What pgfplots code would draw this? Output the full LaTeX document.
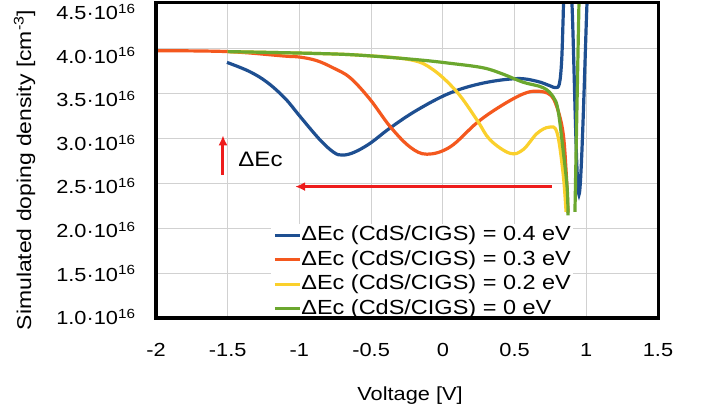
\documentclass[border=0pt]{standalone}
\usepackage{fontspec}
\setmainfont[FakeStretch=1.15]{Liberation Sans}
\usepackage{pgfplots}
\pgfplotsset{compat=1.18}
\usetikzlibrary{arrows.meta}

\definecolor{cblue}{HTML}{1E4F91}
\definecolor{corange}{HTML}{F4581E}
\definecolor{cyellow}{HTML}{FAD02C}
\definecolor{cgreen}{HTML}{6BA72E}
\definecolor{cred}{HTML}{EE1C1C}

\begin{document}
\begin{tikzpicture}
\begin{axis}[
  name=ax,
  scale only axis,
  width=502bp, height=315bp,
  xmin=-2, xmax=1.5,
  ymin=1.0, ymax=4.5,
  xtick={-2,-1.5,-1,-0.5,0,0.5,1,1.5},
  xticklabels={-2,-1.5,-1,-0.5,0,0.5,1,1.5},
  ytick={1.0,1.5,2.0,2.5,3.0,3.5,4.0,4.5},
  yticklabels={1.0·10\textsuperscript{16},1.5·10\textsuperscript{16},2.0·10\textsuperscript{16},2.5·10\textsuperscript{16},3.0·10\textsuperscript{16},3.5·10\textsuperscript{16},4.0·10\textsuperscript{16},4.5·10\textsuperscript{16}},
  major tick length=0pt,
  grid=major,
  grid style={black!18, line width=0.8bp},
  axis line style={draw=none},
  tick label style={font=\fontsize{19}{22}\selectfont},
  xticklabel style={yshift=-22bp},
  yticklabel style={anchor=east, xshift=-17bp, yshift=1bp-1.4bp*\ticknum},
  xlabel={Voltage [V]},
  ylabel={Simulated doping density [cm\textsuperscript{-3}]},
  xlabel style={at={(axis description cs:0.506,-0.245)}, anchor=center, font=\fontsize{19}{22}\selectfont},
  ylabel style={at={(axis description cs:-0.262,0.47)}, anchor=center, font=\fontsize{20}{22}\selectfont},
  unbounded coords=jump,
  legend cell align=left,
  legend style={at={(axis description cs:0.229,0.299)}, anchor=north west,
    draw=none, fill=white, inner xsep=2bp, inner ysep=1bp,
    font=\fontsize{20.5}{24}\selectfont,
    nodes={inner sep=0pt, text height=15.5bp, text depth=5bp},
    row sep=4bp},
  legend image code/.code={\draw[#1, line width=3.2bp] (0bp,0bp) -- (25bp,0bp);},
  every axis plot/.append style={line width=3.2bp, no marks},
]

% 0.4 eV
\addplot[cblue, smooth, tension=0.6] coordinates {
  (-1.505,3.84) (-1.35,3.74) (-1.226,3.62) (-1.1,3.44) (-0.996,3.24)
  (-0.857,2.98) (-0.76,2.84) (-0.70,2.81)
  (-0.62,2.84) (-0.508,2.94) (-0.369,3.11) (-0.180,3.31) (0.050,3.50)
  (0.280,3.61) (0.517,3.66) (0.656,3.63) (0.747,3.58) (0.785,3.56)
  (0.812,3.60) (0.828,3.85) (0.838,4.30) (0.846,4.70) (0.870,5.20)
  (0.900,4.50) (0.949,2.37) (1.005,4.50) (1.012,4.80)
};
\addlegendentry{ΔEc (CdS/CIGS) = 0.4 eV}

% 0.3 eV
\addplot[corange, smooth, tension=0.6] coordinates {
  (-2.0,3.97) (-1.5,3.96) (-1.1,3.91) (-1.0,3.90) (-0.88,3.86) (-0.766,3.78)
  (-0.647,3.67) (-0.508,3.43) (-0.369,3.13) (-0.229,2.90) (-0.110,2.82)
  (0.050,2.90) (0.238,3.17) (0.399,3.35) (0.560,3.49) (0.660,3.52)
  (0.748,3.48) (0.796,3.34) (0.838,3.06) (0.859,2.64) (0.873,2.17)
};
\addlegendentry{ΔEc (CdS/CIGS) = 0.3 eV}

% 0.2 eV
\addplot[cyellow, smooth, tension=0.6] coordinates {
  (-1.5,3.96) (-0.9,3.94) (-0.578,3.92) (-0.229,3.87) (-0.069,3.76)
  (0.099,3.51) (0.238,3.20) (0.329,2.98) (0.468,2.83) (0.559,2.87)
  (0.656,3.05) (0.740,3.12) (0.796,3.06) (0.838,2.61) (0.859,2.18)
};
\addlegendentry{ΔEc (CdS/CIGS) = 0.2 eV}

% 0 eV
\addplot[cgreen, smooth, tension=0.6] coordinates {
  (-1.5,3.96) (-0.9,3.94) (-0.578,3.92) (-0.180,3.87) (0.050,3.83)
  (0.280,3.78) (0.419,3.71) (0.559,3.62) (0.698,3.56) (0.768,3.46)
  (0.803,3.31) (0.838,2.87) (0.866,2.46) (0.873,2.14)
  (0.90,nan)
  (0.921,2.18) (0.949,4.50) (0.955,4.90)
};
\addlegendentry{ΔEc (CdS/CIGS) = 0 eV}

\draw[cred, line width=3bp, -{Latex[length=10bp,width=9bp]}] (axis cs:-1.533,2.59) -- (axis cs:-1.533,3.03);
\draw[cred, line width=3bp, -{Latex[length=10bp,width=9bp]}] (axis cs:0.76,2.46) -- (axis cs:-1.03,2.46);
\node[anchor=west, font=\fontsize{21}{24}\selectfont] at (axis cs:-1.45,2.76) {ΔEc};
\end{axis}
\draw[black, line width=3bp] (ax.south west) rectangle (ax.north east);
\pgfresetboundingbox
\useasboundingbox (-156bp,-90bp) rectangle (546bp,318bp);
\end{tikzpicture}
\end{document}
